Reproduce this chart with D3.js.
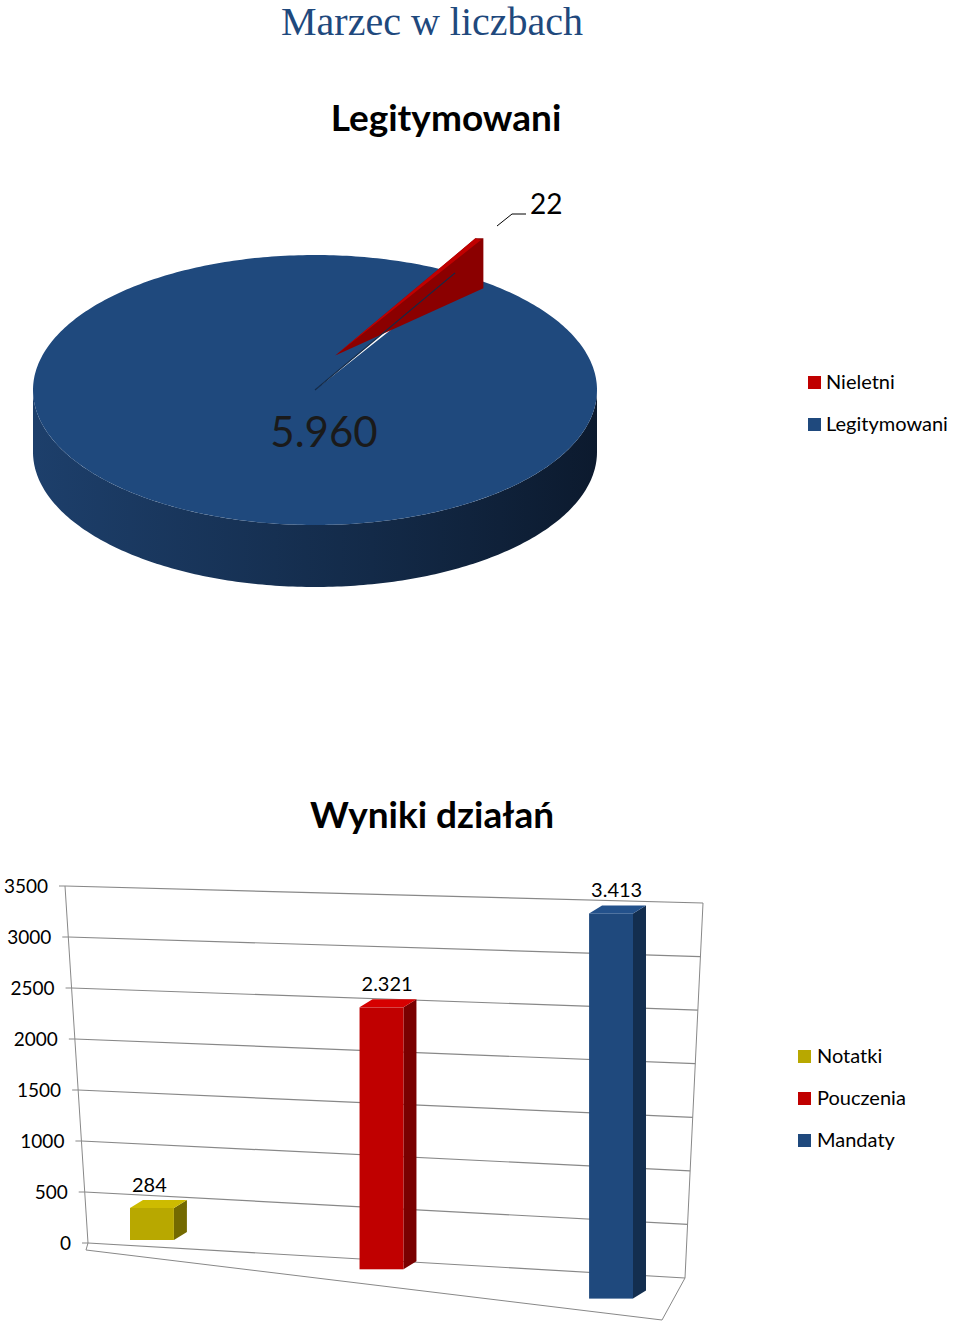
<!DOCTYPE html>
<html><head><meta charset="utf-8">
<script src="https://cdn.jsdelivr.net/npm/d3@7"></script>
<style>body{margin:0;background:#fff}</style>
</head><body>
<svg id="c" width="960" height="1327"></svg>
<script>
const pieNames = ["Nieletni", "Legitymowani"]
const pieValues = [22, 5960]
const pieLabels = ["22", "5.960"]
const pieColors = ["#c00000", "#1f497d"]

const barNames = ["Notatki", "Pouczenia", "Mandaty"]
const barValues = [284, 2321, 3413]
const barLabels = ["284", "2.321", "3.413"]
const barColors = ["#b8a800", "#c00000", "#1f497d"]
const ticks = [0, 500, 1000, 1500, 2000, 2500, 3000, 3500]

const svg = d3.select("#c")
const font = "Lato, 'Open Sans', sans-serif"

svg.append("text").attr("x", 432).attr("y", 35).attr("text-anchor", "middle")
   .attr("font-family", "'Liberation Serif', serif").attr("font-size", 40).attr("fill", "#1f497d")
   .text("Marzec w liczbach")
svg.append("text").attr("x", 446).attr("y", 131).attr("text-anchor", "middle")
   .attr("font-family", font).attr("font-weight", "bold").attr("font-size", 37).text("Legitymowani")

// ---- 3D pie
const cx = 315, cy = 390, rx = 282, ry = 135, depth = 62
const ell = (t, dx = 0, dy = 0) => [cx + dx + rx * Math.cos(t), cy + dy - ry * Math.sin(t)]
const pie = d3.pie().sort(null).startAngle(0).endAngle(2 * Math.PI)(pieValues)
const rot = Math.PI / 2 - 0.52
const slices = pie.map(p => ({ a0: rot - p.endAngle, a1: rot - p.startAngle, i: p.index }))

const defs = svg.append("defs")
const g1 = defs.append("linearGradient").attr("id", "side")
g1.append("stop").attr("offset", "0").attr("stop-color", "#1d3f6b")
g1.append("stop").attr("offset", "0.6").attr("stop-color", "#132a48")
g1.append("stop").attr("offset", "1").attr("stop-color", "#0c1a2e")

const arcPath = (a0, a1, dx, dy, n = 200) =>
  d3.range(n + 1).map(k => ell(a0 + (a1 - a0) * k / n, dx, dy))

const big = slices[1]
{
  const front = arcPath(Math.PI, 2 * Math.PI, 0, 0)
  const back = front.map(p => [p[0], p[1] + depth]).reverse()
  svg.append("path").attr("d", d3.line()(front.concat(back)) + "Z").attr("fill", "url(#side)")
}
{
  const pts = [[cx, cy]].concat(arcPath(big.a0, big.a1, 0, 0, 400))
  svg.append("path").attr("d", d3.line()(pts) + "Z").attr("fill", "#1f497d")
}
// red exploded slice (top face only, the side is hidden behind)
const sm = slices[0]
const mid = (sm.a0 + sm.a1) / 2
const ex = 40 * Math.cos(mid), ey = -40 * Math.sin(mid)
{
  const rim = arcPath(sm.a0, sm.a1, ex, ey, 20)
  const c = [cx + ex, cy + ey]
  const e = rim[rim.length - 1]
  svg.append("path").attr("d", d3.line()([c, e, [e[0] + 8, e[1]], [e[0] + 8, e[1] + 50]]) + "Z").attr("fill", "#8b0000")
  svg.append("path").attr("d", d3.line()([c].concat(rim)) + "Z").attr("fill", "#c00000")
  svg.append("path").attr("d", d3.line()([[cx, cy], ell(sm.a1)])).attr("stroke", "#132a48").attr("stroke-width", 1.2)
}
svg.append("text").attr("x", 324).attr("y", 447).attr("text-anchor", "middle")
   .attr("font-family", font).attr("font-size", 42).attr("fill", "#1a1a1a").text(pieLabels[1])
svg.append("path").attr("d", "M497,226L512,214L526,214").attr("stroke", "#000").attr("fill", "none")
svg.append("text").attr("x", 530).attr("y", 214).attr("font-family", font).attr("font-size", 28).text(pieLabels[0])

pieNames.forEach((n, i) => {
  const y = 382 + i * 42
  svg.append("rect").attr("x", 808).attr("y", y - 6).attr("width", 13).attr("height", 13).attr("fill", pieColors[i])
  svg.append("text").attr("x", 826).attr("y", y + 7).attr("font-family", font).attr("font-size", 20).text(n)
})

// ---- 3D bar chart
svg.append("text").attr("x", 432).attr("y", 828).attr("text-anchor", "middle")
   .attr("font-family", font).attr("font-weight", "bold").attr("font-size", 37).text("Wyniki działań")

const yL = d3.scaleLinear().domain([0, 3500]).range([1243, 886])
const xL = d3.scaleLinear().domain([0, 3500]).range([88, 65])
const yR = d3.scaleLinear().domain([0, 3500]).range([1278, 903])
const xR = d3.scaleLinear().domain([0, 3500]).range([685, 703])
const gg = svg.append("g")
ticks.forEach(t => {
  gg.append("line").attr("x1", xL(t)).attr("y1", yL(t)).attr("x2", xR(t)).attr("y2", yR(t))
    .attr("stroke", "#888").attr("stroke-width", 1.2)
  gg.append("line").attr("x1", xL(t) - 6).attr("y1", yL(t)).attr("x2", xL(t)).attr("y2", yL(t)).attr("stroke", "#888")
  gg.append("text").attr("x", xL(t) - 17).attr("y", yL(t) + 7).attr("text-anchor", "end")
    .attr("font-family", font).attr("font-size", 19).text(t)
})
gg.append("line").attr("x1", xL(0)).attr("y1", yL(0)).attr("x2", xL(3500)).attr("y2", yL(3500)).attr("stroke", "#888")
gg.append("line").attr("x1", xR(0)).attr("y1", yR(0)).attr("x2", xR(3500)).attr("y2", yR(3500)).attr("stroke", "#888")
gg.append("path").attr("d", "M88,1243L86,1250L662,1320L685,1278").attr("stroke", "#888").attr("fill", "none")

const bx = d3.scaleBand().domain(barNames).range([130, 635]).paddingInner(0.8)
const base = d3.scaleLinear().domain([130, 600]).range([1240, 1300])
const hs = d3.scaleLinear().domain([0, 3500]).range([0, 395])
const bw = bx.bandwidth() - 2, side = 13, tilt = 8
barNames.forEach((n, i) => {
  const x = bx(n), b = base(x), top = b - hs(barValues[i])
  const c = d3.color(barColors[i])
  svg.append("path").attr("d", `M${x + bw},${b}L${x + bw + side},${b - tilt}L${x + bw + side},${top - tilt}L${x + bw},${top}Z`).attr("fill", c.darker(1.3))
  svg.append("rect").attr("x", x).attr("y", top).attr("width", bw).attr("height", b - top).attr("fill", barColors[i])
  svg.append("path").attr("d", `M${x},${top}L${x + side},${top - tilt}L${x + bw + side},${top - tilt}L${x + bw},${top}Z`).attr("fill", c.brighter(0.3))
  svg.append("text").attr("x", x + 2).attr("y", top - 16).attr("font-family", font).attr("font-size", 20).text(barLabels[i])
})

barNames.forEach((n, i) => {
  const y = 1056 + i * 42
  svg.append("rect").attr("x", 798).attr("y", y - 6).attr("width", 13).attr("height", 13).attr("fill", barColors[i])
  svg.append("text").attr("x", 817).attr("y", y + 7).attr("font-family", font).attr("font-size", 20).text(n)
})
</script>
</body></html>
